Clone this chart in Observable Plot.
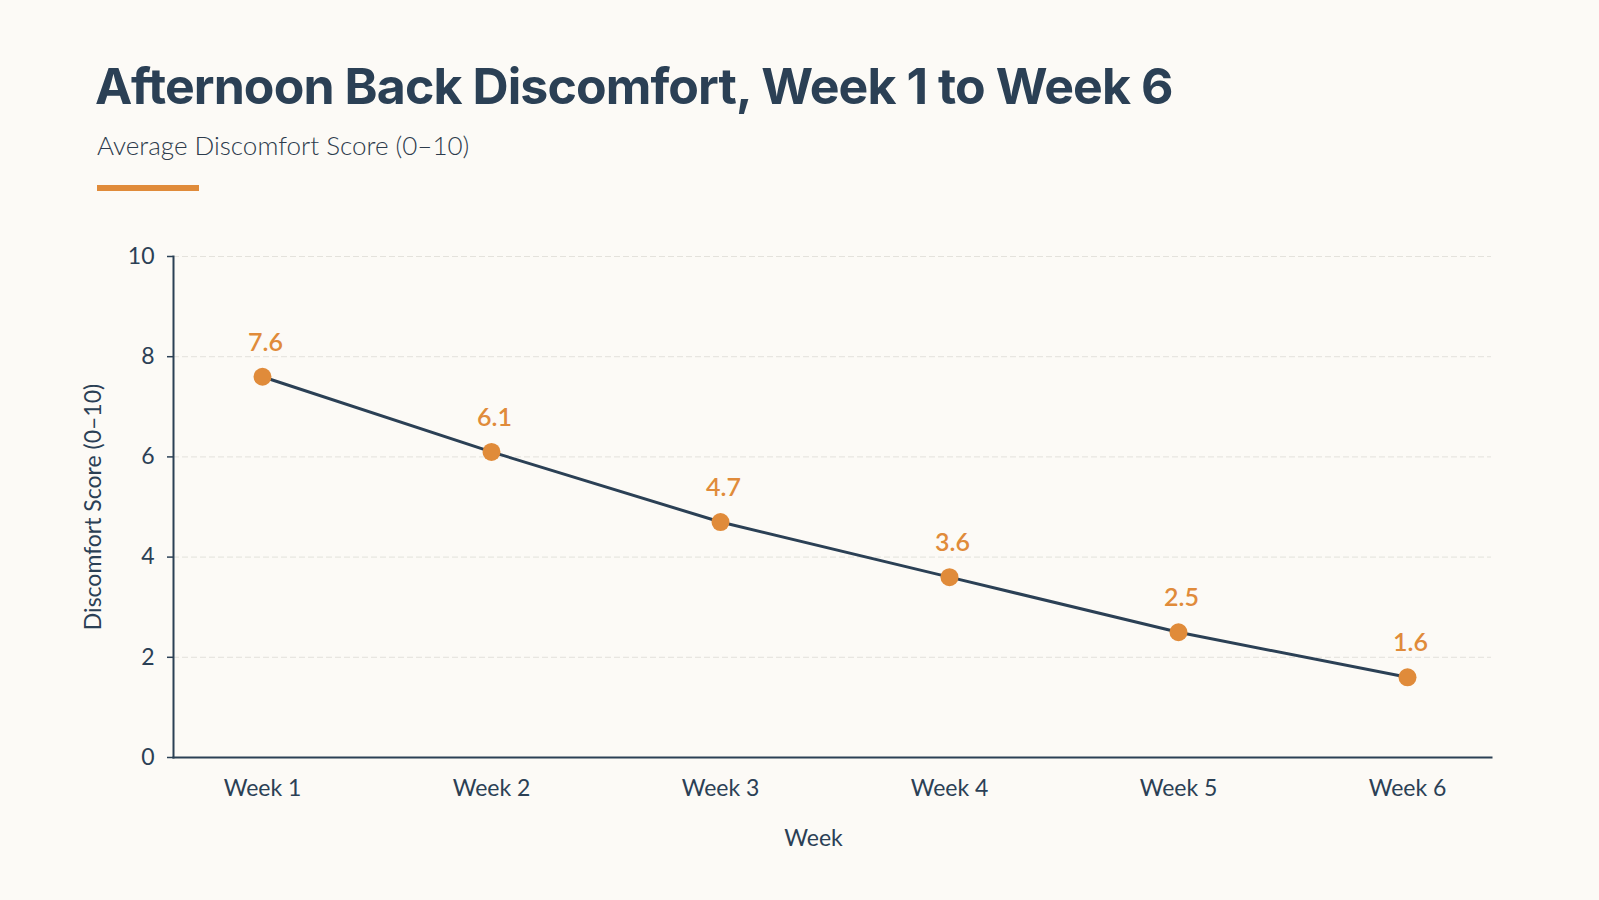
<!DOCTYPE html>
<html>
<head>
<meta charset="utf-8">
<script src="https://cdn.jsdelivr.net/npm/d3@7"></script>
<script src="https://cdn.jsdelivr.net/npm/@observablehq/plot@0.6"></script>
<style>
  html, body { margin: 0; padding: 0; background: #fcfaf6; }
  body { width: 1599px; height: 900px; position: relative; overflow: hidden; font-family: Lato, "Open Sans", sans-serif; color: #2d4256; }
  #title { position: absolute; left: 95px; top: 61px; margin: 0; font-family: Inter, sans-serif; font-weight: 700; font-size: 50px; line-height: 1; letter-spacing: -0.9px; color: #2b4055; white-space: nowrap; }
  #subtitle { position: absolute; left: 97px; top: 132px; margin: 0; font-family: Lato, sans-serif; font-weight: 300; font-size: 26px; line-height: 1; color: #2d3b4c; white-space: nowrap; }
  #accent { position: absolute; left: 97px; top: 185px; width: 102px; height: 6px; background: #e08b3a; }
  #chart { position: absolute; left: 0; top: 200px; }
</style>
</head>
<body>
<h1 id="title">Afternoon Back Discomfort, Week 1 to Week 6</h1>
<div id="subtitle">Average Discomfort Score (0–10)</div>
<div id="accent"></div>
<div id="chart"></div>
<script>
// Weekly average discomfort scores
const weeks = ["Week 1", "Week 2", "Week 3", "Week 4", "Week 5", "Week 6"];
const scores = [7.6, 6.1, 4.7, 3.6, 2.5, 1.6];
const yTicks = [0, 2, 4, 6, 8, 10];

const data = weeks.map((week, i) => ({week, score: scores[i]}));

const ink = "#2b4055";
const accent = "#e08b3a";

const chart = Plot.plot({
  width: 1599,
  height: 700,
  marginLeft: 173,
  marginRight: 108,
  marginTop: 56,
  marginBottom: 143,
  style: {background: "transparent", fontFamily: "Lato, sans-serif", fontSize: "23px", color: ink, overflow: "visible"},
  x: {type: "point", domain: weeks, padding: 0.373, align: 0.515, label: null},
  y: {domain: [0, 10], ticks: yTicks, label: null},
  marks: [
    Plot.gridY(yTicks.filter(d => d > 0), {stroke: "#d4d2cc", strokeOpacity: 0.6, strokeDasharray: "6,3", strokeWidth: 1}),
    Plot.axisY({ticks: yTicks, tickSize: 6, tickPadding: 13, stroke: ink, strokeWidth: 1.5, fill: ink, fontSize: 23, label: null}),
    Plot.axisX({tickSize: 0, tickPadding: 22, fill: ink, fontSize: 23, label: null}),
    Plot.frame({anchor: "left", stroke: ink, strokeWidth: 2}),
    Plot.frame({anchor: "bottom", stroke: ink, strokeWidth: 2}),
    Plot.text(["Week"], {frameAnchor: "bottom", textAnchor: "middle", dx: -19, dy: 88, fill: ink, fontSize: 23}),
    Plot.text(["Discomfort Score (0–10)"], {frameAnchor: "left", textAnchor: "middle", dx: -80, rotate: -90, fill: ink, fontSize: 23}),
    Plot.line(data, {x: "week", y: "score", stroke: ink, strokeWidth: 3}),
    Plot.dot(data, {x: "week", y: "score", r: 9, fill: accent, stroke: null}),
    Plot.text(data, {x: "week", y: "score", text: d => d.score.toFixed(1), dy: -34, dx: 3, fill: accent, fontSize: 25, fontWeight: 600})
  ]
});

document.getElementById("chart").appendChild(chart);
</script>
</body>
</html>
